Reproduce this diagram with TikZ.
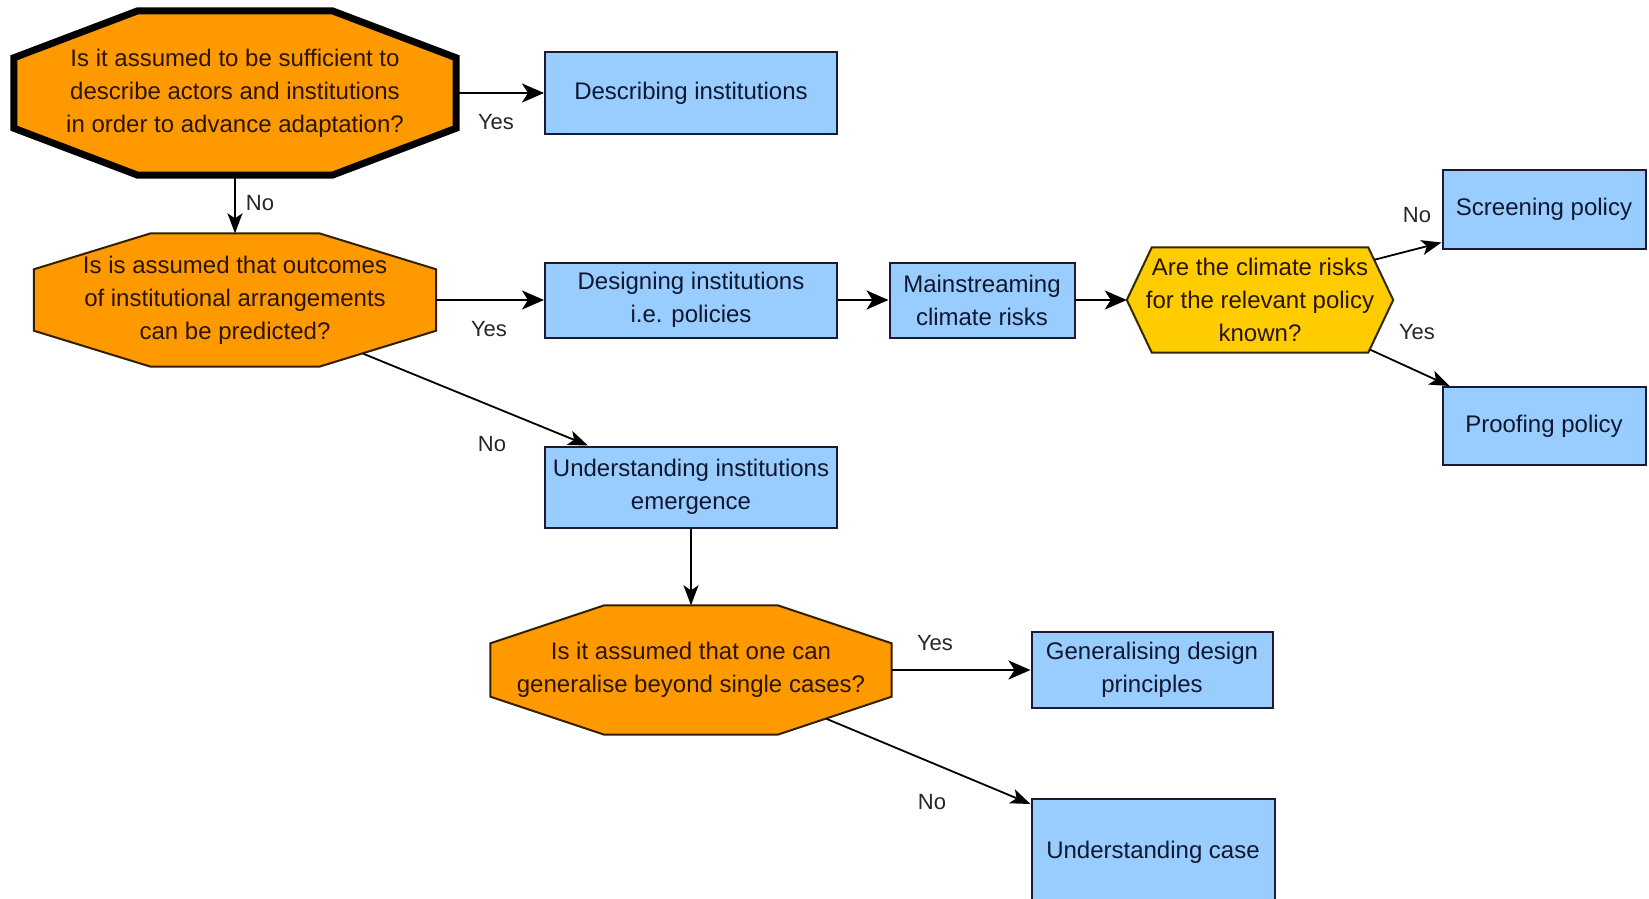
\documentclass[tikz,border=0pt]{standalone}
\usepackage{fontspec}
\setmainfont{Liberation Sans}
\usetikzlibrary{arrows.meta,calc}
\definecolor{octfill}{HTML}{FF9900}
\definecolor{hexfill}{HTML}{FFCC00}
\definecolor{boxfill}{HTML}{99CCFF}
\definecolor{boxline}{HTML}{1A1A33}
\definecolor{qtext}{HTML}{2A1500}
\definecolor{btext}{HTML}{101830}
% octagon around a named frame node: #1 node, #2 corner cut (x), #3 corner cut (y), #4 style
\newcommand\drawoct[4]{%
  \draw[#4] ($(#1.north west)+(#2,0)$) -- ($(#1.north east)+(-#2,0)$)
    -- ($(#1.north east)+(0,#3)$) -- ($(#1.south east)+(0,-#3)$)
    -- ($(#1.south east)+(-#2,0)$) -- ($(#1.south west)+(#2,0)$)
    -- ($(#1.south west)+(0,-#3)$) -- ($(#1.north west)+(0,#3)$) -- cycle;}
\begin{document}
\begin{tikzpicture}[x=1pt,y=-1pt,
  every node/.style={font=\fontsize{24}{33}\selectfont},
  qtextnode/.style={inner sep=0pt, text=qtext, align=center},
  action/.style={draw=boxline, line width=2pt, fill=boxfill, text=btext,
    align=center, inner sep=0pt},
  flow/.style={line width=2.6pt, -{Stealth[length=22pt,width=19pt,inset=6pt]}},
  thinflow/.style={line width=1.8pt, -{Stealth[length=20pt,width=15pt,inset=5pt]}},
  lab/.style={font=\fontsize{22}{26}\selectfont, text=black!85}
]
\path[clip] (0,0) rectangle (1649,899);
\fill[white] (0,0) rectangle (1649,899);

% first question
\node[inner sep=0pt, minimum width=442pt, minimum height=164pt] (o1) at (235,93) {};
\drawoct{o1}{124}{47}{fill=octfill, draw=black, line width=7pt, line join=miter}
\node[qtextnode] (o1t) at (o1) {Is it assumed to be sufficient to\\describe actors and institutions\\in order to advance adaptation?};

% second question
\node[inner sep=0pt, minimum width=402pt, minimum height=133pt] (o2) at (235,300) {};
\drawoct{o2}{117}{36}{fill=octfill, draw=black!80!octfill, line width=2pt}
\node[qtextnode] (o2t) at (o2) {Is is assumed that outcomes\\of institutional arrangements\\can be predicted?};

% third question
\node[inner sep=0pt, minimum width=401pt, minimum height=129pt] (o3) at (691,670) {};
\drawoct{o3}{114}{38}{fill=octfill, draw=black!80!octfill, line width=2pt}
\node[qtextnode] (o3t) at (o3) {Is it assumed that one can\\generalise beyond single cases?};

% climate risk question
\node[inner sep=0pt, minimum width=266pt, minimum height=105pt] (hx) at (1260,300) {};
\draw[fill=hexfill, draw=black!80!hexfill, line width=2pt]
  ($(hx.north west)+(25,0)$) -- ($(hx.north east)+(-25,0)$) -- (hx.east)
  -- ($(hx.south east)+(-25,0)$) -- ($(hx.south west)+(25,0)$) -- (hx.west) -- cycle;
\node[qtextnode] (hxt) at (hx) {Are the climate risks\\for the relevant policy\\known?};

% outcomes
\node[action, minimum width=292pt, minimum height=81pt] (desc) at (691,93) {Describing institutions};
\node[action, minimum width=292pt, minimum height=75pt] (dsgn) at (691,300) {Designing institutions\\i.e. policies};
\node[action, minimum width=185pt, minimum height=75pt] (main) at (982,300) {Mainstreaming\\climate risks};
\node[action, minimum width=203pt, minimum height=79pt] (scr) at (1544,209) {Screening policy};
\node[action, minimum width=203pt, minimum height=78pt] (prf) at (1544,426) {Proofing policy};
\node[action, minimum width=292pt, minimum height=81pt] (uie) at (691,487) {Understanding institutions\\emergence};
\node[action, minimum width=241pt, minimum height=76pt] (gen) at (1152,670) {Generalising design\\principles};
\node[action, minimum width=243pt, minimum height=106pt] (uc) at (1153,852) {Understanding case};

% connectors
\draw[flow] (o1.east) -- (desc.west);
\draw[thinflow] (o1.south) -- (o2.north);
\draw[flow] (o2.east) -- (dsgn.west);
\draw[flow] (dsgn.east) -- (main.west);
\draw[flow] (main.east) -- (hx.west);
\coordinate (o2out) at ($(o2.south east)+(-73,-13)$);
\draw[thinflow] (o2out) -- ($(uie.north west)+(44,0)$);
\coordinate (hxup) at ($(hx.north east)+(-19,12.5)$);
\draw[thinflow] (hxup) -- ($(scr.south west)+(0,-7)$);
\coordinate (hxdn) at ($(hx.south east)+(-23,-3)$);
\draw[thinflow] (hxdn) -- ($(prf.north west)+(8,0)$);
\draw[thinflow] (uie.south) -- (o3.north);
\draw[flow] (o3.east) -- (gen.west);
\coordinate (o3out) at ($(o3.south east)+(-65.5,-16)$);
\draw[thinflow] (o3out) -- ($(uc.north west)+(0,6)$);

% branch labels
\node[lab] (l1) at (496,122) {Yes};
\node[lab] (l2) at (260,203) {No};
\node[lab] (l3) at (489,329) {Yes};
\node[lab] (l4) at (492,444) {No};
\node[lab] (l5) at (1417,215) {No};
\node[lab] (l6) at (1417,332) {Yes};
\node[lab] (l7) at (935,643) {Yes};
\node[lab] (l8) at (932,802) {No};
\end{tikzpicture}
\end{document}
